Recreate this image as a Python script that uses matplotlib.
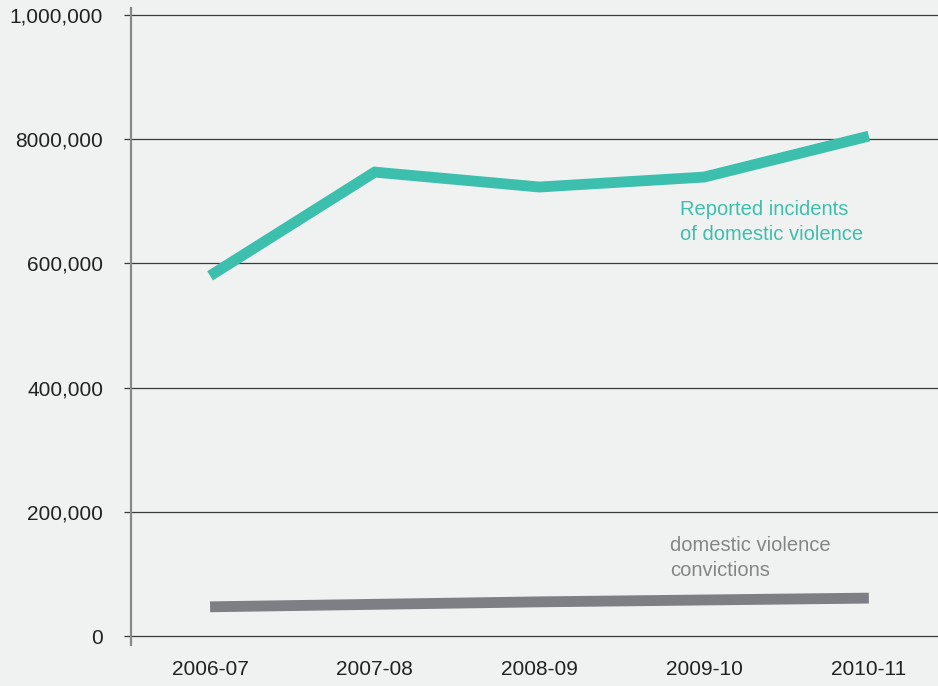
import matplotlib
matplotlib.use("Agg")
import matplotlib.pyplot as plt
from matplotlib.lines import Line2D
from matplotlib.ticker import FixedLocator

plt.rcParams['font.family'] = ['Liberation Sans', 'DejaVu Sans']

years = ["2006-07", "2007-08", "2008-09", "2009-10", "2010-11"]
reported = [580000, 747000, 723000, 739000, 805000]
convictions = [47000, 51000, 55000, 58000, 61000]
ytick_values = [0, 200000, 400000, 600000, 800000, 1000000]
ytick_labels = ["0", "200,000", "400,000", "600,000", "8000,000", "1,000,000"]

bg = "#f0f2f1"
teal = "#3dbfad"
grey = "#7e7f84"

W, H = 938, 686
fig = plt.figure(figsize=(W / 100, H / 100), dpi=100, facecolor=bg)
ax = fig.add_axes([131 / W, 1 - 636 / H, (W - 131) / W, (636 - 15) / H])
ax.set_facecolor(bg)

x = list(range(len(years)))
ax.plot(x, reported, color=teal, lw=7.8, solid_capstyle='butt', solid_joinstyle='miter', zorder=3)
ax.plot(x, convictions, color=grey, lw=7.8, solid_capstyle='butt', zorder=3)

ax.set_xlim(-0.48, 4.42)
ax.set_ylim(0, 1000000)
ax.yaxis.set_major_locator(FixedLocator(ytick_values))
ax.set_yticklabels(ytick_labels)
ax.set_xticks(x)
ax.set_xticklabels(years)

for s in ax.spines.values():
    s.set_visible(False)

ax.grid(axis='y', color='#3a3a3a', lw=0.9, zorder=1)
ax.grid(axis='x', visible=False)
for gl in ax.get_ygridlines():
    gl.set_clip_on(False)
ax.tick_params(axis='y', length=5, width=0.9, color='#3a3a3a', pad=15, labelsize=15, labelcolor='#222222')
ax.tick_params(axis='x', length=0, pad=17, labelsize=15, labelcolor='#222222')

# left spine extending slightly beyond the plot area
spine = Line2D([0, 0], [-9 / 621, 1 + 7 / 621], transform=ax.transAxes, color='#888888', lw=1.6,
               clip_on=False, zorder=2)
ax.add_line(spine)

ax.text(2.853, 702000, "Reported incidents\nof domestic violence", color=teal, fontsize=14.5,
        ha='left', va='top', linespacing=1.4)
ax.text(2.793, 161000, "domestic violence\nconvictions", color='#858585', fontsize=14.5,
        ha='left', va='top', linespacing=1.4)

fig.savefig("out.png", dpi=100, facecolor=bg)
